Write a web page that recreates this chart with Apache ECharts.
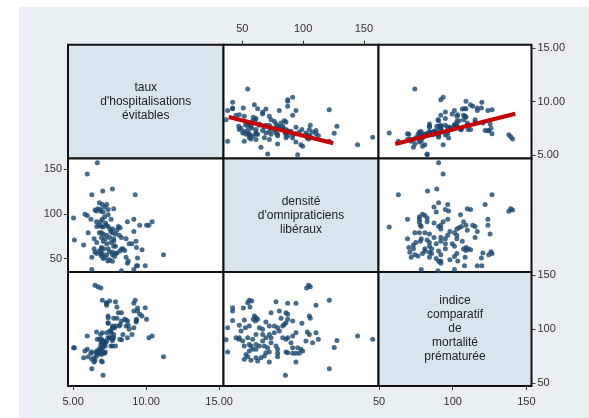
<!DOCTYPE html>
<html><head><meta charset="utf-8">
<script src="https://cdn.jsdelivr.net/npm/echarts@6/dist/echarts.min.js"></script>
<style>html,body{margin:0;padding:0;background:#fff}#c{width:589px;height:418px}</style>
</head><body><div id="c"></div>
<script>
// Variable names (diagonal)
const varNames = ["taux\nd'hospitalisations\névitables", "densité\nd'omnipraticiens\nlibéraux", "indice\ncomparatif\nde\nmortalité\nprématurée"];
// Observations (same order in all three arrays)
const densiteOmni = [37.9,37.9,36.6,42.0,42.0,42.0,44.8,47.0,47.5,47.5,50.8,51.6,52.5,48.9,50.3,51.6,53.0,51.6,54.4,55.7,56.3,57.7,59.0,55.7,54.4,58.5,55.7,57.1,58.5,55.7,54.4,57.1,59.9,60.7,61.2,62.6,64.0,61.2,61.2,64.0,61.2,61.2,62.6,69.4,66.7,66.7,69.4,66.7,68.1,69.4,68.1,65.3,73.6,72.2,72.2,73.6,73.6,70.8,72.2,72.2,77.7,80.4,76.3,79.0,80.4,76.3,77.7,79.0,79.0,79.0,81.8,83.2,83.2,84.5,85.4,85.9,85.9,85.9,85.9,87.3,87.3,87.3,87.3,87.3,90.0,91.4,91.4,91.4,91.4,94.1,94.1,94.1,94.1,95.5,96.9,98.2,99.0,99.6,102.3,102.9,103.4,104.5,105.1,105.1,105.9,105.9,107.8,110.6,110.6,112.5,121.5,121.5,125.6,127.8,144.8,157.2];
const mortalitePremat = [101.2,78.6,90.0,119.8,116.7,108.0,91.9,90.4,103.4,91.9,119.5,108.4,101.2,98.1,88.8,84.2,76.4,71.8,124.5,126.7,120.5,126.0,109.0,102.8,91.9,90.4,85.7,84.2,81.1,79.5,74.3,70.9,112.1,107.4,110.5,109.0,101.2,95.0,85.7,84.2,81.1,73.3,70.2,106.5,99.7,95.0,91.9,88.8,84.2,78.0,74.9,73.3,115.2,102.8,95.0,91.9,87.3,82.6,78.6,69.3,125.4,116.7,102.8,101.2,98.1,96.6,84.2,81.1,77.4,74.3,109.9,102.8,91.9,104.3,56.9,115.2,105.9,90.4,78.6,123.9,113.6,109.0,91.9,78.0,87.3,107.4,93.5,82.6,77.4,123.9,96.6,77.4,69.3,82.6,77.4,81.1,105.3,79.5,88.8,138.1,97.2,140.6,112.1,95.0,139.4,109.9,87.3,122.0,96.6,90.4,126.7,63.1,82.9,89.2,93.5,90.4];
const hospEvitables = [9.16,6.28,8.31,9.94,9.41,9.34,8.72,7.69,8.78,7.38,9.41,8.63,7.84,7.5,7.06,7.2,6.94,6.28,7.3,7.0,8.0,7.5,8.53,7.91,7.69,8.2,6.9,7.7,6.78,6.62,11.19,6.5,9.72,8.31,7.4,9.34,7.78,8.41,7.1,7.9,6.94,6.44,6.94,9.31,8.84,9.03,7.78,7.3,7.59,7.06,6.62,5.72,8.31,8.63,7.78,7.5,6.94,5.09,7.2,6.44,7.9,9.16,8.16,7.69,7.59,7.3,7.06,6.94,6.8,6.03,8.0,7.7,7.53,8.22,7.05,8.10,7.4,6.94,6.62,7.28,9.56,10.03,10.19,6.78,7.22,8.72,10.41,6.88,6.6,9.16,7.6,6.22,7.0,5.03,7.16,5.97,7.4,5.81,7.06,6.9,6.6,6.5,7.4,6.88,6.7,7.78,7.16,7.3,7.0,6.8,9.25,6.28,7.03,7.69,5.97,6.66];
// Tick labels
const ticksHosp = [5, 10, 15];
const ticksDens = [50, 100, 150];
const ticksMort = [50, 100, 150];
// Fitted lines (endpoints)
const fitDensHosp = [[38.8, 8.56], [124.8, 6.10]];
const fitMortHosp = [[61.0, 6.03], [142.5, 8.87]];

const vars = [hospEvitables, densiteOmni, mortalitePremat];
const ticks = [ticksHosp, ticksDens, ticksMort];
const fmts = [v => v.toFixed(2), v => String(v), v => String(v)];
const xRanges = [[4.65, 15.3], [34.5, 162], [49.6, 153.5]];
const yRanges = [[4.67, 15.34], [35.1, 162], [47, 153]];
const colX = [68, 223.5, 378.5, 531.5];
const rowY = [44.7, 158.5, 272, 386];
const textCol = '#333';
const font = '"Liberation Sans", Arial, sans-serif';

const grid = [], xAxis = [], yAxis = [], series = [], graphic = [];
graphic.push({type:'rect', left:0, top:0, shape:{width:19, height:418}, style:{fill:'#fff'}, silent:true});
graphic.push({type:'rect', left:0, top:0, shape:{width:589, height:7}, style:{fill:'#fff'}, silent:true});

const showX = {'0,1':'top', '2,0':'bottom', '2,2':'bottom'};
const showY = {'0,2':'right', '1,0':'left', '2,2':'right'};

for (let i = 0; i < 3; i++) {
  for (let j = 0; j < 3; j++) {
    const g = i * 3 + j;
    const diag = i === j;
    grid.push({
      left: colX[j], top: rowY[i], width: colX[j+1] - colX[j], height: rowY[i+1] - rowY[i],
      show: true, backgroundColor: diag ? '#d9e5ec' : '#ffffff',
      borderColor: '#111', borderWidth: 2, containLabel: false, outerBoundsMode: 'none'
    });
    const sx = showX[i + ',' + j];
    const sy = showY[i + ',' + j];
    xAxis.push({
      gridIndex: g, type: 'value', min: xRanges[j][0], max: xRanges[j][1],
      position: sx || 'bottom',
      axisLine: {show: false}, splitLine: {show: false},
      axisTick: {show: !!sx, length: 4, customValues: ticks[j], lineStyle: {color: textCol, width: 1}},
      axisLabel: {show: !!sx, customValues: ticks[j], formatter: fmts[j], fontSize: 11, color: textCol, fontFamily: font, margin: 10}
    });
    yAxis.push({
      gridIndex: g, type: 'value', min: yRanges[i][0], max: yRanges[i][1],
      position: sy || 'left',
      axisLine: {show: false}, splitLine: {show: false},
      axisTick: {show: !!sy, length: 4, customValues: ticks[i], lineStyle: {color: textCol, width: 1}},
      axisLabel: {show: !!sy, customValues: ticks[i], formatter: fmts[i], fontSize: 11, color: textCol, fontFamily: font, margin: 6}
    });
    if (!diag) {
      series.push({
        type: 'scatter', xAxisIndex: g, yAxisIndex: g, symbol: 'circle', symbolSize: 5,
        itemStyle: {color: '#1a476f'}, silent: true,
        data: vars[j].map((v, k) => [v, vars[i][k]])
      });
    } else {
      graphic.push({
        type: 'text', x: (colX[j] + colX[j+1]) / 2, y: (rowY[i] + rowY[i+1]) / 2,
        style: {text: varNames[i], textAlign: 'center', textVerticalAlign: 'middle', verticalAlign: 'middle',
                font: '12px ' + font, lineHeight: 14, fill: '#222'}, silent: true
      });
    }
  }
}
series.push({type:'line', xAxisIndex:1, yAxisIndex:1, data: fitDensHosp, symbol:'none', lineStyle:{color:'#c40000', width:4}, silent:true, z:5});
series.push({type:'line', xAxisIndex:2, yAxisIndex:2, data: fitMortHosp, symbol:'none', lineStyle:{color:'#c40000', width:4}, silent:true, z:5});

const chart = echarts.init(document.getElementById('c'), null, {renderer: 'canvas'});
chart.setOption({
  backgroundColor: '#e8f0f3', animation: false,
  grid, xAxis, yAxis, series, graphic
});
</script></body></html>
